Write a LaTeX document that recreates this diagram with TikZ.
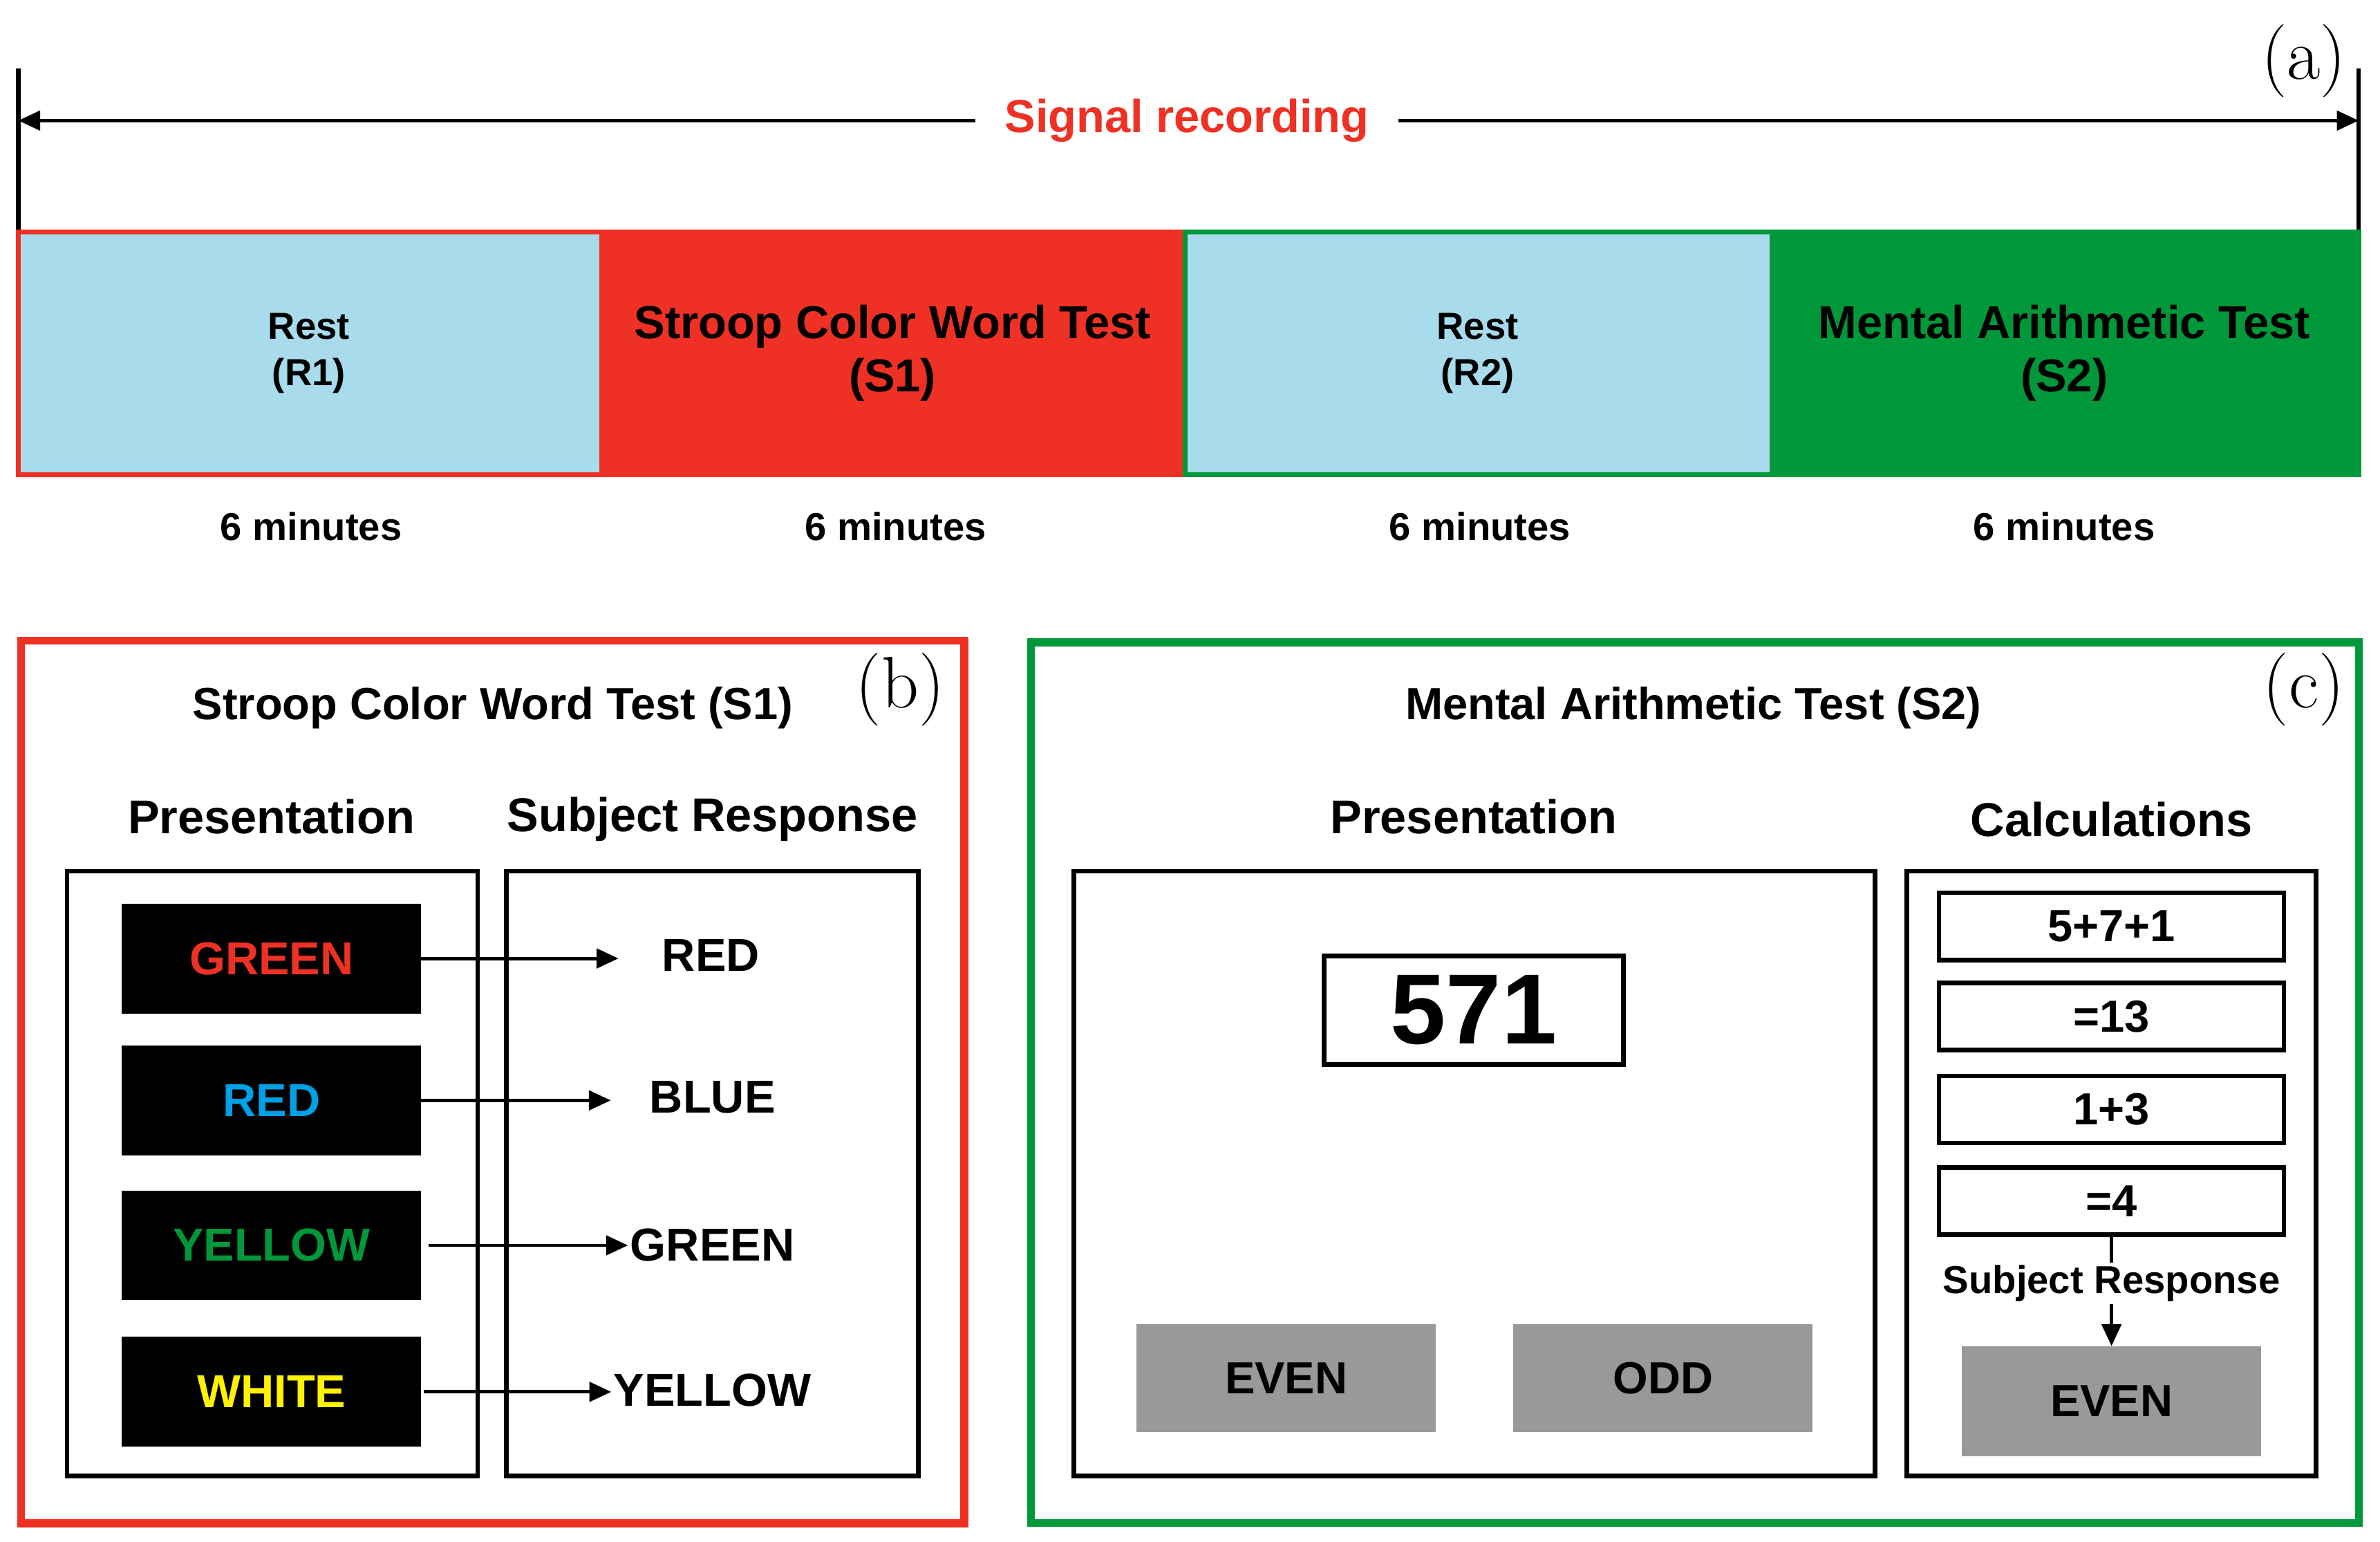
\documentclass[tikz,border=0pt]{standalone}
\usepackage{fontspec}
\setmainfont{Liberation Sans}
\usetikzlibrary{arrows.meta}
\definecolor{lb}{HTML}{A8DCEC}
\definecolor{rd}{HTML}{EE3124}
\definecolor{gn}{HTML}{00983A}
\definecolor{gy}{HTML}{999999}
\newfontfamily\lmr{Latin Modern Roman}
\begin{document}
\begin{tikzpicture}[x=0.02207cm,y=-0.02207cm,
  b/.style={inner sep=0pt,outer sep=0pt,align=center,font=\bfseries},
  bar/.style={b,minimum height=3.509cm,font=\fontsize{15.5}{19}\bfseries},
  big/.style={font=\fontsize{19}{22}\bfseries},
  frame/.style={b,draw,line width=1.9pt},
  blk/.style={b,fill=black,minimum width=4.326cm,minimum height=1.589cm,font=\fontsize{19}{22}\bfseries},
  gray/.style={b,fill=gy,minimum width=4.326cm,minimum height=1.567cm,font=\fontsize{18.5}{22}\bfseries},
  calc/.style={frame,minimum width=4.988cm,minimum height=0.971cm,font=\fontsize{18.5}{22}\bfseries},
  lab/.style={font=\lmr\fontsize{30}{30}\selectfont},
  arr/.style={line width=1.4pt,-{Triangle[length=9pt,width=8pt]}}]
\useasboundingbox (0,0) rectangle (1560,1010);
% (a)
\coordinate (L0) at (12,45); \coordinate (L1) at (12,152);
\coordinate (R0) at (1546,45); \coordinate (R1) at (1546,152);
\draw[line width=1.9pt] (L0)--(L1) (R0)--(R1);
\node[b,text=rd,font=\fontsize{19}{22}\bfseries] (sig) at (778,79) {Signal recording};
\coordinate (aL) at (12,79); \coordinate (aR) at (1546,79);
\draw[arr] ([xshift=-12pt]sig.west) -- (aL);
\draw[arr] ([xshift=12pt]sig.east) -- (aR);
\node[lab] (la) at (1510,40) {(a)};
\node[bar,fill=lb,minimum width=8.409cm] (r1) at (202.5,231.5) {Rest\\(R1)};
\node[bar,fill=rd,minimum width=8.475cm,big] (s1) at (585,231.5) {Stroop Color Word Test\\(S1)};
\node[bar,fill=lb,minimum width=8.453cm] (r2) at (968.5,231.5) {Rest\\(R2)};
\node[bar,fill=gn,minimum width=8.519cm,big] (s2) at (1353,231.5) {Mental Arithmetic Test\\(S2)};
\draw[rd,line width=1.9pt] (r1.north west) rectangle (s1.south east);
\draw[gn,line width=1.9pt] (r2.north west) rectangle (s2.south east);
\foreach \x/\n in {204/m1,587/m2,970/m3,1353/m4}
  \node[b,font=\fontsize{16}{19}\bfseries] (\n) at (\x,345) {6 minutes};
% (b)
\node[frame,draw=rd,line width=3.2pt,minimum width=13.639cm,minimum height=12.757cm] (pb) at (323,709) {};
\node[lab] (lb) at (590,452) {(b)};
\node[b,font=\fontsize{18.5}{22}\bfseries] (tb) at (323,464) {Stroop Color Word Test (S1)};
\node[b,font=\fontsize{19.5}{23}\bfseries] (pb1) at (178,535) {Presentation};
\node[b,font=\fontsize{19.5}{23}\bfseries] (pb2) at (467,537) {Subject Response};
\node[frame,minimum width=5.937cm,minimum height=8.74cm] (bl) at (178.5,769) {};
\node[frame,minimum width=5.959cm,minimum height=8.74cm] (br) at (467,769) {};
\node[blk,text=rd] (w1) at (178,628) {GREEN};
\node[blk,text={rgb,255:red,0;green,160;blue,230}] (w2) at (178,721) {RED};
\node[blk,text=gn] (w3) at (178,816) {YELLOW};
\node[blk,text=yellow] (w4) at (178,912) {WHITE};
\node[b,font=\fontsize{19}{22}\bfseries] (a1) at (466,626) {RED};
\node[b,font=\fontsize{19}{22}\bfseries] (a2) at (467,719) {BLUE};
\node[b,font=\fontsize{19}{22}\bfseries] (a3) at (467,816) {GREEN};
\node[b,font=\fontsize{19}{22}\bfseries] (a4) at (467,911) {YELLOW};
\draw[arr] (w1.east) -- ([xshift=-18pt]a1.west|-w1.east);
\draw[arr] (w2.east) -- ([xshift=-16pt]a2.west|-w2.east);
\draw[arr] ([xshift=3pt]w3.east) -- ([xshift=-1pt]a3.west|-w3.east);
\draw[arr] ([xshift=1pt]w4.east) -- ([xshift=-1pt]a4.west|-w4.east);
% (c)
\node[frame,draw=gn,line width=3.2pt,minimum width=19.201cm,minimum height=12.734cm] (pc) at (1111,709.5) {};
\node[lab] (lc) at (1510,452) {(c)};
\node[b,font=\fontsize{18.5}{22}\bfseries] (tc) at (1110,464) {Mental Arithmetic Test (S2)};
\node[b,font=\fontsize{19.5}{23}\bfseries] (pc1) at (966,535) {Presentation};
\node[b,font=\fontsize{19.5}{23}\bfseries] (pc2) at (1384,537) {Calculations};
\node[frame,minimum width=11.587cm,minimum height=8.74cm] (cl) at (966.5,769) {};
\node[frame,minimum width=5.915cm,minimum height=8.74cm] (cr) at (1384,769) {};
\node[frame,minimum width=4.326cm,minimum height=1.567cm,font=\fontsize{41}{44}\bfseries] (n) at (966,662) {571};
\node[gray] (ev) at (843,903) {EVEN};
\node[gray] (od) at (1090,903) {ODD};
\node[calc] (c1) at (1384,607) {5+7+1};
\node[calc] (c2) at (1384,666) {=13};
\node[calc] (c3) at (1384,727) {1+3};
\node[calc] (c4) at (1384,787) {=4};
\node[gray,minimum height=1.589cm] (ev2) at (1384,918) {EVEN};
\draw[arr] (c4.south) -- (ev2.north);
\node[b,fill=white,inner sep=1pt,font=\fontsize{16}{19}\bfseries] (sr) at (1384,841) {Subject Response};
\end{tikzpicture}
\end{document}
